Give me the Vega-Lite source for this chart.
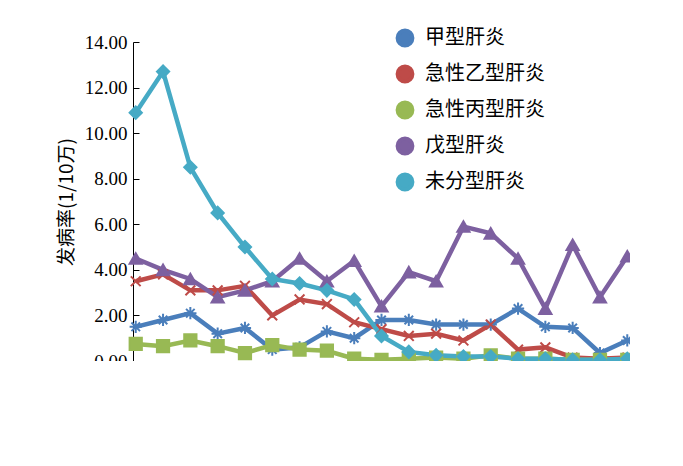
{"$schema":"https://vega.github.io/schema/vega-lite/v6.json","width":497,"height":319,"autosize":{"type":"none"},"padding":{"left":133,"top":42,"right":0,"bottom":0},"background":"white",
"config":{"font":"Noto Sans CJK SC","view":{"stroke":null},"axis":{"grid":false,"domainColor":"black","tickColor":"black","labelColor":"black","titleColor":"black","labelFont":"Liberation Serif","labelFontSize":19,"titleFontSize":19,"titleFontWeight":"normal"}},
"data":{"values":[
{"s":"甲型肝炎","y":"2005","v":1.5},{"s":"甲型肝炎","y":"2006","v":1.8},{"s":"甲型肝炎","y":"2007","v":2.1},{"s":"甲型肝炎","y":"2008","v":1.2},{"s":"甲型肝炎","y":"2009","v":1.45},{"s":"甲型肝炎","y":"2010","v":0.5},{"s":"甲型肝炎","y":"2011","v":0.6},{"s":"甲型肝炎","y":"2012","v":1.3},{"s":"甲型肝炎","y":"2013","v":1.0},{"s":"甲型肝炎","y":"2014","v":1.8},{"s":"甲型肝炎","y":"2015","v":1.8},{"s":"甲型肝炎","y":"2016","v":1.6},{"s":"甲型肝炎","y":"2017","v":1.6},{"s":"甲型肝炎","y":"2018","v":1.6},{"s":"甲型肝炎","y":"2019","v":2.3},{"s":"甲型肝炎","y":"2020","v":1.5},{"s":"甲型肝炎","y":"2021","v":1.45},{"s":"甲型肝炎","y":"2022","v":0.35},{"s":"甲型肝炎","y":"2023","v":0.9},
{"s":"急性乙型肝炎","y":"2005","v":3.5},{"s":"急性乙型肝炎","y":"2006","v":3.8},{"s":"急性乙型肝炎","y":"2007","v":3.1},{"s":"急性乙型肝炎","y":"2008","v":3.1},{"s":"急性乙型肝炎","y":"2009","v":3.3},{"s":"急性乙型肝炎","y":"2010","v":2.0},{"s":"急性乙型肝炎","y":"2011","v":2.7},{"s":"急性乙型肝炎","y":"2012","v":2.5},{"s":"急性乙型肝炎","y":"2013","v":1.7},{"s":"急性乙型肝炎","y":"2014","v":1.4},{"s":"急性乙型肝炎","y":"2015","v":1.1},{"s":"急性乙型肝炎","y":"2016","v":1.2},{"s":"急性乙型肝炎","y":"2017","v":0.9},{"s":"急性乙型肝炎","y":"2018","v":1.6},{"s":"急性乙型肝炎","y":"2019","v":0.5},{"s":"急性乙型肝炎","y":"2020","v":0.6},{"s":"急性乙型肝炎","y":"2021","v":0.15},{"s":"急性乙型肝炎","y":"2022","v":0.1},{"s":"急性乙型肝炎","y":"2023","v":0.15},
{"s":"急性丙型肝炎","y":"2005","v":0.75},{"s":"急性丙型肝炎","y":"2006","v":0.65},{"s":"急性丙型肝炎","y":"2007","v":0.9},{"s":"急性丙型肝炎","y":"2008","v":0.65},{"s":"急性丙型肝炎","y":"2009","v":0.35},{"s":"急性丙型肝炎","y":"2010","v":0.7},{"s":"急性丙型肝炎","y":"2011","v":0.5},{"s":"急性丙型肝炎","y":"2012","v":0.45},{"s":"急性丙型肝炎","y":"2013","v":0.1},{"s":"急性丙型肝炎","y":"2014","v":0.05},{"s":"急性丙型肝炎","y":"2015","v":0.1},{"s":"急性丙型肝炎","y":"2016","v":0.15},{"s":"急性丙型肝炎","y":"2017","v":0.1},{"s":"急性丙型肝炎","y":"2018","v":0.25},{"s":"急性丙型肝炎","y":"2019","v":0.1},{"s":"急性丙型肝炎","y":"2020","v":0.1},{"s":"急性丙型肝炎","y":"2021","v":0.05},{"s":"急性丙型肝炎","y":"2022","v":0.05},{"s":"急性丙型肝炎","y":"2023","v":0.05},
{"s":"戊型肝炎","y":"2005","v":4.5},{"s":"戊型肝炎","y":"2006","v":4.0},{"s":"戊型肝炎","y":"2007","v":3.6},{"s":"戊型肝炎","y":"2008","v":2.8},{"s":"戊型肝炎","y":"2009","v":3.1},{"s":"戊型肝炎","y":"2010","v":3.5},{"s":"戊型肝炎","y":"2011","v":4.5},{"s":"戊型肝炎","y":"2012","v":3.5},{"s":"戊型肝炎","y":"2013","v":4.4},{"s":"戊型肝炎","y":"2014","v":2.4},{"s":"戊型肝炎","y":"2015","v":3.9},{"s":"戊型肝炎","y":"2016","v":3.5},{"s":"戊型肝炎","y":"2017","v":5.9},{"s":"戊型肝炎","y":"2018","v":5.6},{"s":"戊型肝炎","y":"2019","v":4.5},{"s":"戊型肝炎","y":"2020","v":2.3},{"s":"戊型肝炎","y":"2021","v":5.1},{"s":"戊型肝炎","y":"2022","v":2.8},{"s":"戊型肝炎","y":"2023","v":4.6},
{"s":"未分型肝炎","y":"2005","v":10.9},{"s":"未分型肝炎","y":"2006","v":12.7},{"s":"未分型肝炎","y":"2007","v":8.5},{"s":"未分型肝炎","y":"2008","v":6.5},{"s":"未分型肝炎","y":"2009","v":5.0},{"s":"未分型肝炎","y":"2010","v":3.6},{"s":"未分型肝炎","y":"2011","v":3.4},{"s":"未分型肝炎","y":"2012","v":3.1},{"s":"未分型肝炎","y":"2013","v":2.7},{"s":"未分型肝炎","y":"2014","v":1.1},{"s":"未分型肝炎","y":"2015","v":0.4},{"s":"未分型肝炎","y":"2016","v":0.25},{"s":"未分型肝炎","y":"2017","v":0.2},{"s":"未分型肝炎","y":"2018","v":0.2},{"s":"未分型肝炎","y":"2019","v":0.1},{"s":"未分型肝炎","y":"2020","v":0.1},{"s":"未分型肝炎","y":"2021","v":0.05},{"s":"未分型肝炎","y":"2022","v":0.05},{"s":"未分型肝炎","y":"2023","v":0.1}
]},
"encoding":{
"x":{"field":"y","type":"ordinal","scale":{"type":"point","padding":0.1},"axis":{"title":"日期(年)","labelAngle":-45,"labelAlign":"right","labelBaseline":"middle","tickSize":0,"labelPadding":6,"titleFontSize":20,"titlePadding":8}},
"y":{"field":"v","type":"quantitative","scale":{"domain":[0,14]},"axis":{"title":"发病率(1/10万)","format":".2f","values":[0,2,4,6,8,10,12,14],"tickSize":-6,"labelPadding":12,"titlePadding":8}},
"color":{"field":"s","type":"nominal","sort":["甲型肝炎","急性乙型肝炎","急性丙型肝炎","戊型肝炎","未分型肝炎"],"scale":{"range":["#4a7ebb","#be4b48","#98b954","#7d60a0","#46aac5"]},"legend":{"title":null,"orient":"none","legendX":262,"legendY":-14,"labelFontSize":20,"labelColor":"black","symbolSize":220,"symbolStrokeWidth":4,"rowPadding":4,"labelOffset":10}},
"shape":{"field":"s","type":"nominal","sort":["甲型肝炎","急性乙型肝炎","急性丙型肝炎","戊型肝炎","未分型肝炎"],"scale":{"range":["M-1,0L1,0M0,-1L0,1M-0.7,-0.7L0.7,0.7M-0.7,0.7L0.7,-0.7","M-0.8,-0.8L0.8,0.8M-0.8,0.8L0.8,-0.8","square","triangle-up","diamond"]},"legend":null}
},
"layer":[
{"mark":{"type":"line","strokeWidth":4.5}},
{"mark":{"type":"point","filled":true,"opacity":1,"size":150,"strokeWidth":2},"encoding":{"stroke":{"field":"s","type":"nominal","sort":["甲型肝炎","急性乙型肝炎","急性丙型肝炎","戊型肝炎","未分型肝炎"],"scale":{"range":["#4a7ebb","#be4b48","#98b954","#7d60a0","#46aac5"]},"legend":null}}}
]}
